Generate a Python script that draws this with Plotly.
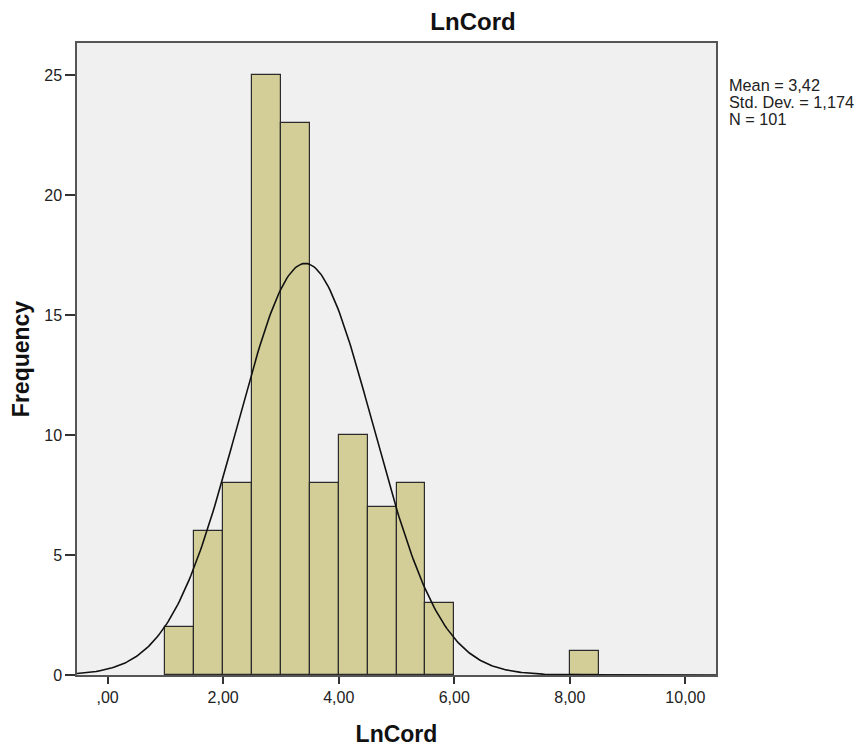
import numpy as np
import plotly.graph_objects as go

bin_left = [1.0, 1.5, 2.0, 2.5, 3.0, 3.5, 4.0, 4.5, 5.0, 5.5, 8.0]
counts = [2, 6, 8, 25, 23, 8, 10, 7, 8, 3, 1]
bin_width = 0.5
mean_val = 3.42
sd_val = 1.174
n_val = 101
x_tickvals = [0, 2, 4, 6, 8, 10]
x_ticktext = [",00", "2,00", "4,00", "6,00", "8,00", "10,00"]
y_tickvals = [0, 5, 10, 15, 20, 25]
stat_lines = [f"Mean = {str(mean_val).replace('.', ',')}",
              f"Std. Dev. = {str(sd_val).replace('.', ',')}",
              f"N = {n_val}"]

centers = [b + bin_width / 2 for b in bin_left]
xs = np.linspace(-0.53, 10.53, 400)
ys = n_val * bin_width * np.exp(-0.5 * ((xs - mean_val) / sd_val) ** 2) / (sd_val * np.sqrt(2 * np.pi))

fig = go.Figure()
fig.add_trace(go.Bar(x=centers, y=counts, width=bin_width,
                     marker=dict(color="#D3CE97", line=dict(color="#2b2b2b", width=1.2)),
                     showlegend=False, hoverinfo="skip"))
fig.add_trace(go.Scatter(x=xs, y=ys, mode="lines", line=dict(color="#111111", width=1.6),
                         showlegend=False, hoverinfo="skip"))

font = "Liberation Sans, Arial, sans-serif"
T, B = 43, 675
fig.update_layout(
    width=861, height=747,
    margin=dict(l=77, r=145, t=T, b=747 - B),
    paper_bgcolor="white", plot_bgcolor="#F0F0F0",
    font=dict(family=font, color="#222222"),
    bargap=0,
    title=dict(text="<b>LnCord</b>", x=473 / 861, xanchor="center", y=1 - 22 / 747, yanchor="middle",
               font=dict(size=24, family=font, color="#111111")),
    xaxis=dict(range=[-0.53, 10.53], tickvals=x_tickvals, ticktext=x_ticktext, automargin=False,
               ticks="outside", ticklen=7, tickwidth=1.5, tickcolor="#333333",
               showline=True, linecolor="#555555", linewidth=1.5, mirror=True,
               showgrid=False, zeroline=False,
               tickfont=dict(size=16, family=font, color="#222222"),
               title=dict(text="<b>LnCord</b>", font=dict(size=23, family=font, color="#111111"), standoff=22)),
    yaxis=dict(range=[0, 26.35], tickvals=y_tickvals, automargin=False,
               ticks="outside", ticklen=10, tickwidth=1.5, tickcolor="#333333",
               showline=True, linecolor="#555555", linewidth=1.5, mirror=True,
               showgrid=False, zeroline=False,
               tickfont=dict(size=16, family=font, color="#222222"),
               title=dict(text="<b>Frequency</b>", font=dict(size=23, family=font, color="#111111"), standoff=8)),
)
for i, line in enumerate(stat_lines):
    yc = 85 + i * 16.8
    fig.add_annotation(text=line, xref="paper", yref="paper", x=1.0,
                       y=(B - yc) / (B - T), xshift=11, xanchor="left", yanchor="middle",
                       align="left", showarrow=False,
                       font=dict(size=16.3, family=font, color="#222222"))
fig.write_html("out.html")
